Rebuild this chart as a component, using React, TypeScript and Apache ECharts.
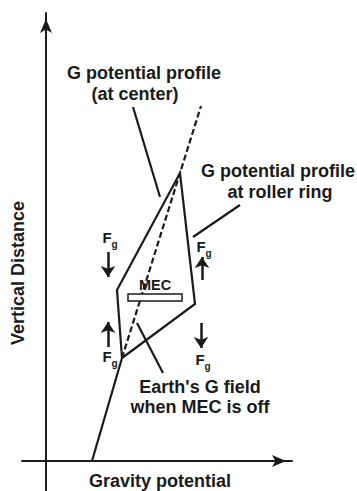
import React, { useEffect, useRef } from "react";
import * as echarts from "echarts";

// Conceptual diagram data (x: gravity potential, y: vertical distance), arbitrary units
const earthField: number[][] = [[46, 0], [76, 103]];
const centerProfile: number[][] = [[76, 103], [155, 355]];
const rollerRingProfile: number[][] = [[76, 103], [71, 171], [134, 288], [149, 157], [76, 103]];
const pointerLines: number[][][] = [
  [[87, 354], [114, 264]],
  [[194, 256], [147, 224]],
  [[91, 138], [117, 88]],
];
const forceArrows: number[][][] = [
  [[62, 209], [62, 184]],
  [[62, 114], [62, 139]],
  [[156, 181], [156, 204]],
  [[155, 138], [155, 113]],
];
const mecBar: number[][] = [[82, 167, 136, 160]];
const labels = {
  xTitle: "Gravity potential",
  yTitle: "Vertical Distance",
  center: ["G potential profile", "(at center)"],
  roller: ["G potential profile", "at roller ring"],
  earth: ["Earth's G field", "when MEC is off"],
  mec: "MEC",
};

export default function App() {
  const ref = useRef<HTMLDivElement>(null);
  useEffect(() => {
    if (!ref.current) return;
    const chart = echarts.init(ref.current, undefined, { renderer: "svg" });
    const ink = "#1a1a1a";
    const font = "Liberation Sans, Arial, sans-serif";
    const txt = (s: string, x: number, y: number, size = 18) => ({
      type: "text",
      x,
      y,
      style: {
        text: s,
        fill: ink,
        font: `bold ${size}px ${font}`,
        textAlign: "center",
        textVerticalAlign: "middle",
      },
    });
    // F with subscript g, (x, y) = centre of the F glyph
    const fg = (x: number, y: number) => ({
      type: "text",
      x: x + 3,
      y: y - 7.5,
      style: {
        text: "{a|F}{b|g}",
        fill: ink,
        textAlign: "center",
        textVerticalAlign: "top",
        rich: {
          a: { fontSize: 15, fontWeight: "bold", fontFamily: font, lineHeight: 15, verticalAlign: "top", fill: ink },
          b: { fontSize: 10, fontWeight: "bold", fontFamily: font, lineHeight: 10, padding: [10, 0, 0, 0], verticalAlign: "top", fill: ink },
        },
      },
    });
    const axisCommon = {
      type: "value",
      axisTick: { show: false },
      axisLabel: { show: false },
      splitLine: { show: false },
    };
    chart.setOption({
      animation: false,
      backgroundColor: "#fff",
      grid: { left: 22, top: 13, width: 270, height: 478, containLabel: false },
      xAxis: {
        ...axisCommon,
        min: -24,
        max: 246,
        axisLine: { show: true, onZero: true, symbol: ["none", "arrow"], symbolSize: [9, 14], symbolOffset: [0, -6], lineStyle: { color: ink, width: 2 } },
      },
      yAxis: {
        ...axisCommon,
        min: -30,
        max: 448,
        axisLine: { show: true, onZero: true, symbol: ["none", "arrow"], symbolSize: [9, 14], symbolOffset: [0, -6], lineStyle: { color: ink, width: 2 } },
      },
      series: [
        { type: "line", data: earthField, showSymbol: false, lineStyle: { color: ink, width: 2.2 } },
        { type: "line", data: centerProfile, showSymbol: false, lineStyle: { color: ink, width: 2.2, type: [6, 3] } },
        { type: "line", data: rollerRingProfile, showSymbol: false, lineStyle: { color: ink, width: 2.2, join: "miter" } },
        {
          type: "lines",
          coordinateSystem: "cartesian2d",
          data: pointerLines.map((c) => ({ coords: c })),
          lineStyle: { color: ink, width: 2.2, opacity: 1 },
        },
        {
          type: "lines",
          coordinateSystem: "cartesian2d",
          symbol: ["none", "arrow"],
          symbolSize: [8, 11],
          data: forceArrows.map((c) => ({ coords: c })),
          lineStyle: { color: ink, width: 2.5, opacity: 1 },
        },
        {
          type: "custom",
          data: mecBar,
          renderItem: (params: any, api: any) => {
            const p1 = api.coord([api.value(0), api.value(1)]);
            const p2 = api.coord([api.value(2), api.value(3)]);
            return {
              type: "rect",
              shape: { x: p1[0], y: p1[1], width: p2[0] - p1[0], height: p2[1] - p1[1] },
              style: { fill: "#fff", stroke: ink, lineWidth: 1.5 },
            };
          },
          z: 5,
        },
      ],
      graphic: [
        txt(labels.center[0], 144, 73),
        txt(labels.center[1], 135, 94),
        txt(labels.roller[0], 278, 171),
        txt(labels.roller[1], 280, 192),
        txt(labels.earth[0], 200, 387),
        txt(labels.earth[1], 200, 407),
        txt(labels.xTitle, 160, 481),
        { ...txt(labels.yTitle, 18, 273), rotation: Math.PI / 2 },
        txt(labels.mec, 155, 285, 14.5),
        fg(107, 237),
        fg(107, 356),
        fg(201, 246),
        fg(200, 359),
      ],
    });
    return () => chart.dispose();
  }, []);
  return <div ref={ref} style={{ position: "fixed", left: 0, top: 0, width: 357, height: 491 }} />;
}
